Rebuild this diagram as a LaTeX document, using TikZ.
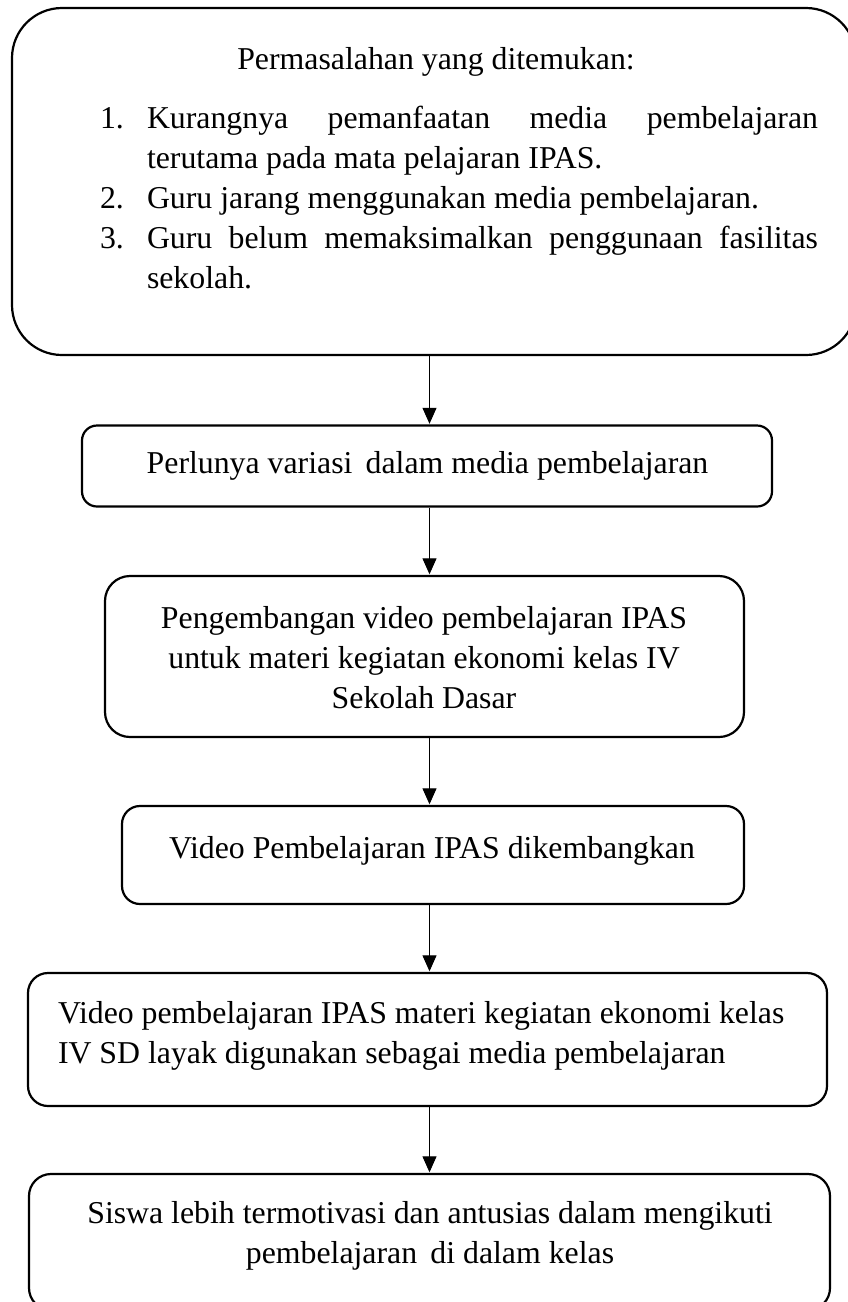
\documentclass[tikz,border=0pt]{standalone}
\usepackage{fontspec}
\setmainfont{Liberation Serif}
\usetikzlibrary{arrows.meta}
\tikzset{
  boxshape/.style={draw=black, line width=2.2pt, rectangle, inner sep=0pt, fill=none},
  txt/.style={inner sep=0pt, outer sep=0pt, font=\fontsize{31.8pt}{40pt}\selectfont, anchor=base},
  txtw/.style={txt, anchor=base west},
  arr/.style={line width=1.1pt, -{Triangle[length=16pt,width=14pt]}, shorten >=0.6pt},
}
\begin{document}
\begin{tikzpicture}[x=1pt,y=-1pt]
\useasboundingbox (0,0) rectangle (848,1302);
\clip (0,0) rectangle (848,1302);
\fill[white] (0,0) rectangle (848,1302);

% boxes (pixel coordinates of the reference)
\node[boxshape, rounded corners=50pt, minimum width=844pt, minimum height=347pt] (b1) at (434,181.5) {};
\node[boxshape, rounded corners=15pt, minimum width=690pt, minimum height=81pt] (b2) at (427,466) {};
\node[boxshape, rounded corners=25pt, minimum width=639pt, minimum height=161pt] (b3) at (424.5,656.5) {};
\node[boxshape, rounded corners=18pt, minimum width=622pt, minimum height=98pt] (b4) at (433,855) {};
\node[boxshape, rounded corners=20pt, minimum width=799pt, minimum height=133pt] (b5) at (427.5,1039.5) {};
\node[boxshape, rounded corners=22pt, minimum width=801pt, minimum height=136pt] (b6) at (429.5,1242) {};

% texts of box 1
\node[txt] (t0) at (436,69) {Permasalahan yang ditemukan:};
\node[txtw] (n1) at (100,128) {1.};
\node[txtw] (l1) at (147,128) {\hbox to 671pt{Kurangnya\hfill pemanfaatan\hfill media\hfill pembelajaran}};
\node[txtw] (l1b) at (147,168) {terutama pada mata pelajaran IPAS.};
\node[txtw] (n2) at (100,208) {2.};
\node[txtw] (l2) at (147,208) {Guru jarang menggunakan media pembelajaran.};
\node[txtw] (n3) at (100,248) {3.};
\node[txtw] (l3) at (147,248) {\hbox to 671pt{Guru\hfill belum\hfill memaksimalkan\hfill penggunaan\hfill fasilitas}};
\node[txtw] (l3b) at (147,288) {sekolah.};

% box 2
\node[txt] (t2) at (427.5,473) {Perlunya variasi\, dalam media pembelajaran};

% box 3
\node[txt] (t3a) at (424,628) {Pengembangan video pembelajaran IPAS};
\node[txt] (t3b) at (424,668) {untuk materi kegiatan ekonomi kelas IV};
\node[txt] (t3c) at (424,708) {Sekolah Dasar};

% box 4
\node[txt] (t4) at (432,858) {Video Pembelajaran IPAS dikembangkan};

% box 5
\node[txtw] (t5a) at (58,1023) {Video pembelajaran IPAS materi kegiatan ekonomi kelas};
\node[txtw] (t5b) at (58,1063) {IV SD layak digunakan sebagai media pembelajaran};

% box 6
\node[txt] (t6a) at (430,1223) {Siswa lebih termotivasi dan antusias dalam mengikuti};
\node[txt] (t6b) at (430,1263) {pembelajaran\, di dalam kelas};

% connectors
\coordinate (ax) at (429.5,0);
\draw[arr] (b1.south -| ax) -- (b2.north -| ax);
\draw[arr] (b2.south -| ax) -- (b3.north -| ax);
\draw[arr] (b3.south -| ax) -- (b4.north -| ax);
\draw[arr] (b4.south -| ax) -- (b5.north -| ax);
\draw[arr] (b5.south -| ax) -- (b6.north -| ax);
\end{tikzpicture}
\end{document}
